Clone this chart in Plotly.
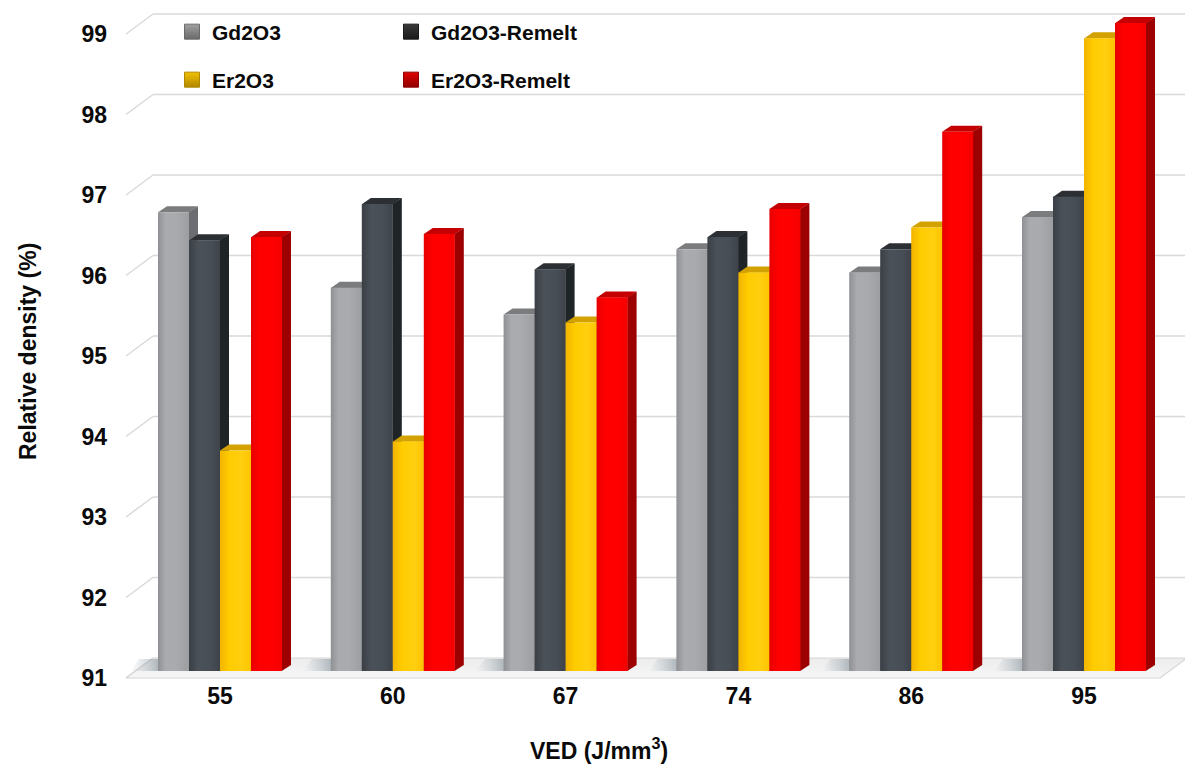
import plotly.graph_objects as go

# ---- data -------------------------------------------------------------
ved_labels = ["55", "60", "67", "74", "86", "95"]
gd2o3 = [96.70, 95.76, 95.43, 96.24, 95.95, 96.64]
gd2o3_remelt = [96.35, 96.80, 95.99, 96.39, 96.24, 96.89]
er2o3 = [93.74, 93.85, 95.33, 95.95, 96.51, 98.86]
er2o3_remelt = [96.39, 96.43, 95.64, 96.74, 97.70, 99.05]
series_names = ["Gd2O3", "Gd2O3-Remelt", "Er2O3", "Er2O3-Remelt"]
y_tick_values = [91, 92, 93, 94, 95, 96, 97, 98, 99]

# ---- styling ----------------------------------------------------------
series_values = [gd2o3, gd2o3_remelt, er2o3, er2o3_remelt]
front_scales = [
    [[0, "#8e9093"], [0.25, "#a9abae"], [0.6, "#a8aaad"], [1, "#9c9ea1"]],
    [[0, "#3a3f45"], [0.3, "#4b5158"], [0.7, "#484e55"], [1, "#3e434a"]],
    [[0, "#f2b400"], [0.3, "#ffcc00"], [0.7, "#ffcf10"], [1, "#ffc400"]],
    [[0, "#e80000"], [0.3, "#ff0000"], [0.7, "#ff0000"], [1, "#f40000"]],
]
top_colors = ["#7b7c7e", "#2c3034", "#d3a200", "#c40000"]
side_colors = ["#6c6d70", "#1f2427", "#a98300", "#9c0000"]
legend_colors = ["#a0a0a0", "#3a3a3a", "#f2c000", "#e00000"]
legend_edges = ["#6a6a6a", "#1a1a1a", "#b08800", "#900000"]

FONT = "Liberation Sans, Arial, sans-serif"
TEXT_COLOR = "#0a0a0a"
BASE = 91

# pixel scale of the axes (plot area 1065 x 680 px)
PX_X = 172.8          # px per category step
PX_Y = 80.5           # px per percentage point
BAR_W = 31 / PX_X     # bar width in category units
DX, DY = 9 / PX_X, 6 / PX_Y            # bar depth projection
FRONT_DY = 7 / PX_Y                    # front edge of the floor below bar plane
WALL_DX, WALL_DY = 27 / PX_X, 20 / PX_Y  # floor / side wall depth
X_MIN, X_MAX = -100 / PX_X, 965 / PX_X
Y_MIN, Y_MAX = BASE - 9 / PX_Y, BASE + 671 / PX_Y
WALL_X = X_MIN + 6 / PX_X              # front-left corner of the chart box
FLOOR_RIGHT = 5.44

fig = go.Figure()
shapes = []

# back-wall gridlines with the short diagonal on the left wall
for v in y_tick_values:
    yf = v - FRONT_DY
    yb = yf + WALL_DY
    shapes.append(dict(type="line", xref="x", yref="y", x0=WALL_X, y0=yf,
                       x1=WALL_X + WALL_DX, y1=yb,
                       line=dict(color="#d9d9d9", width=1.5), layer="below"))
    if v > BASE:
        shapes.append(dict(type="line", xref="x", yref="y", x0=WALL_X + WALL_DX, y0=yb,
                           x1=X_MAX, y1=yb,
                           line=dict(color="#d9d9d9", width=1.5), layer="below"))

# floor
fy0 = BASE - FRONT_DY
fig.add_trace(go.Scatter(
    x=[WALL_X, FLOOR_RIGHT, FLOOR_RIGHT + WALL_DX, WALL_X + WALL_DX, WALL_X],
    y=[fy0, fy0, fy0 + WALL_DY, fy0 + WALL_DY, fy0],
    fill="toself", mode="lines", line=dict(color="#d6d6d6", width=1.2),
    fillgradient=dict(type="vertical",
                      colorscale=[[0, "#f7f7f7"], [1, "#ececec"]]),
    hoverinfo="skip", showlegend=False))

# soft shadows on the floor to the left of each group
n_series = len(series_values)
for i in range(len(ved_labels)):
    gl = i - n_series / 2 * BAR_W
    gr = i + n_series / 2 * BAR_W
    sx0 = gl - 28 / PX_X
    fig.add_trace(go.Scatter(
        x=[sx0, gr, gr + DX, sx0 + DX, sx0],
        y=[BASE, BASE, BASE + DY * 2, BASE + DY * 2, BASE],
        fill="toself", mode="none",
        fillgradient=dict(type="horizontal",
                          colorscale=[[0, "rgba(150,165,175,0)"],
                                      [0.18, "rgba(120,135,145,0.55)"],
                                      [1, "rgba(120,135,145,0.5)"]]),
        hoverinfo="skip", showlegend=False))

# bars: side, top, then front face, series drawn left to right
for k, (name, vals) in enumerate(zip(series_names, series_values)):
    off = (k - (n_series - 1) / 2) * BAR_W
    for i, v in enumerate(vals):
        xl = i + off - BAR_W / 2
        xr = i + off + BAR_W / 2
        fig.add_trace(go.Scatter(
            x=[xr - 0.002, xr + DX, xr + DX, xr - 0.002, xr - 0.002],
            y=[BASE, BASE + DY, v + DY, v, BASE],
            fill="toself", mode="none", fillcolor=side_colors[k],
            hoverinfo="skip", showlegend=False))
        fig.add_trace(go.Scatter(
            x=[xl, xl + DX, xr + DX, xr, xl],
            y=[v - 0.002, v + DY, v + DY, v - 0.002, v - 0.002],
            fill="toself", mode="none", fillcolor=top_colors[k],
            hoverinfo="skip", showlegend=False))
        fig.add_trace(go.Scatter(
            x=[xl, xr, xr, xl, xl],
            y=[BASE, BASE, v, v, BASE],
            fill="toself", mode="none",
            fillgradient=dict(type="horizontal", colorscale=front_scales[k]),
            name=name, hovertemplate=f"{name}<br>VED {ved_labels[i]}: %{{text}}%<extra></extra>",
            text=[f"{v:.2f}"] * 5, showlegend=False))

# legend entries (two rows)
for k, name in enumerate(series_names):
    fig.add_trace(go.Scatter(
        x=[None], y=[None], mode="markers", name=name,
        marker=dict(symbol="square", size=15, color=legend_colors[k],
                    line=dict(color=legend_edges[k], width=1),
                    gradient=dict(type="vertical", color=legend_edges[k])),
        legend="legend" if k < 2 else "legend2"))

legend_common = dict(orientation="h", xanchor="left", yanchor="middle",
                     bgcolor="rgba(0,0,0,0)", entrywidth=174,
                     font=dict(family=FONT, size=21, color=TEXT_COLOR, weight="bold"),
                     itemwidth=30)

fig.update_layout(
    width=1185, height=769,
    margin=dict(l=120, r=0, t=0, b=89),
    paper_bgcolor="white", plot_bgcolor="white",
    shapes=shapes,
    xaxis=dict(range=[X_MIN, X_MAX], tickvals=list(range(len(ved_labels))),
               ticktext=ved_labels, showgrid=False, zeroline=False,
               showline=False, ticks="",
               tickfont=dict(family=FONT, size=23, color=TEXT_COLOR, weight="bold")),
    yaxis=dict(range=[Y_MIN, Y_MAX],
               tickvals=[v - FRONT_DY for v in y_tick_values],
               ticktext=[str(v) for v in y_tick_values],
               showgrid=False, zeroline=False, showline=False, ticks="",
               ticklabelstandoff=12,
               tickfont=dict(family=FONT, size=23, color=TEXT_COLOR, weight="bold")),
    legend=dict(x=(172 - 120) / 1065, y=1 - 32 / 680, **legend_common),
    legend2=dict(x=(172 - 120) / 1065, y=1 - 80 / 680, **legend_common),
    annotations=[
        dict(text="VED (J/mm<sup>3</sup>)", xref="paper", yref="paper",
             x=(599 - 120) / 1065, y=1 - 749 / 680, showarrow=False,
             xanchor="center", yanchor="middle",
             font=dict(family=FONT, size=23, color=TEXT_COLOR, weight="bold")),
        dict(text="Relative density (%)", xref="paper", yref="paper",
             x=(28 - 120) / 1065, y=1 - 352 / 680, showarrow=False, textangle=-90,
             xanchor="center", yanchor="middle",
             font=dict(family=FONT, size=23, color=TEXT_COLOR, weight="bold")),
    ],
)

fig.write_html("out.html")
